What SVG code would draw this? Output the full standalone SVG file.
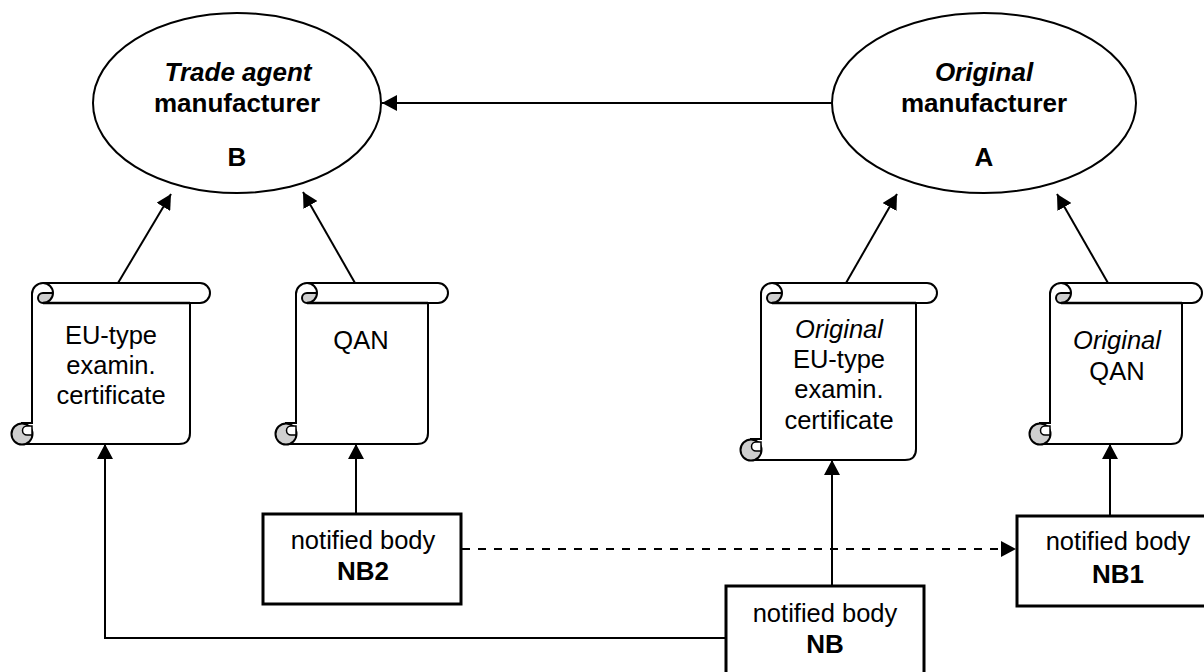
<svg xmlns="http://www.w3.org/2000/svg" width="1204" height="672" viewBox="0 0 1204 672">
<style>
text{font-family:"Liberation Sans",Arial,sans-serif;font-size:25.500px;fill:#000;text-anchor:middle}
.b{font-weight:bold;font-size:26px}.i{font-style:italic}
.s{fill:#fff;stroke:#000;stroke-width:2}
.r{fill:#fff;stroke:#000;stroke-width:3}
.c{fill:none;stroke:#000;stroke-width:2}
.g{fill:#cfcfcf;stroke:#000;stroke-width:2}
.f{fill:#cfcfcf}
.w{fill:#fff;stroke:#000;stroke-width:1.500}
.t{fill:none;stroke:#000;stroke-width:2.500}
</style>
<defs>
<marker id="a" markerUnits="userSpaceOnUse" markerWidth="17" markerHeight="16" refX="15" refY="8" orient="auto"><path d="M0 0L15 8L0 16z" fill="#000"/></marker>
<g id="curl">
<path class="f" d="M11 21A5 5 0 0 1 11 11H21A10 10 0 0 1 11 21Z"/>
<path class="c" d="M11 1A10 10 0 0 1 11 21A5 5 0 0 1 11 11H21"/>
</g>
<g id="foot">
<circle class="g" cx="0" cy="0" r="10.500"/>
<path class="w" d="M10 -8H5A4.500 4.500 0 0 0 5 1H10Z"/>
</g>
</defs>
<g id="connectors">
<path class="c" marker-end="url(#a)" d="M832 103H382"/>
<path class="c" marker-end="url(#a)" d="M118 283L171 194"/>
<path class="c" marker-end="url(#a)" d="M355 283L303 192"/>
<path class="c" marker-end="url(#a)" d="M846 283L897 194"/>
<path class="c" marker-end="url(#a)" d="M1108 283L1057 194"/>
<path class="c" marker-end="url(#a)" d="M356 514V444"/>
<path class="c" marker-end="url(#a)" d="M832 586V460"/>
<path class="c" marker-end="url(#a)" d="M1110 516V444"/>
<path class="c" marker-end="url(#a)" d="M726 638H105V444"/>
<path class="c" marker-end="url(#a)" stroke-dasharray="8 8" d="M462 549H1016"/>
</g>
<g id="trade-agent"><ellipse class="s" cx="237" cy="103" rx="144" ry="90"/><text class="b i" x="238" y="81">Trade agent</text><text class="b" x="237" y="112">manufacturer</text><text class="b" x="237" y="166">B</text></g>
<g id="original"><ellipse class="s" cx="984" cy="103" rx="152" ry="90"/><text class="b i" x="984" y="81">Original</text><text class="b" x="984" y="112">manufacturer</text><text class="b" x="984" y="166">A</text></g>
<g id="cert-b">
<path class="s" d="M43 283H200A10 10 0 0 1 200 303H190V433Q190 444 179 444H22V423H32V294A11 11 0 0 1 43 283Z"/>
<use href="#curl" x="32" y="282"/><path class="t" d="M43 303H190"/><use href="#foot" x="22" y="434"/>
<text x="111" y="344">EU-type</text><text x="111" y="374">examin.</text><text x="111" y="404">certificate</text></g>
<g id="qan-b">
<path class="s" d="M307 283H438A10 10 0 0 1 438 303H428V433Q428 444 417 444H286V423H296V294A11 11 0 0 1 307 283Z"/>
<use href="#curl" x="296" y="282"/><path class="t" d="M307 303H428"/><use href="#foot" x="286" y="434"/>
<text x="361" y="349">QAN</text></g>
<g id="cert-a">
<path class="s" d="M772 283H927A10 10 0 0 1 927 303H916V449Q916 460 905 460H751V439H761V294A11 11 0 0 1 772 283Z"/>
<use href="#curl" x="761" y="282"/><path class="t" d="M772 303H916"/><use href="#foot" x="751" y="450"/>
<text class="i" x="839" y="338">Original</text><text x="839" y="368">EU-type</text><text x="839" y="398">examin.</text><text x="839" y="429">certificate</text></g>
<g id="qan-a">
<path class="s" d="M1061 283H1192A10 10 0 0 1 1192 303H1182V433Q1182 444 1171 444H1040V423H1050V294A11 11 0 0 1 1061 283Z"/>
<use href="#curl" x="1050" y="282"/><path class="t" d="M1061 303H1182"/><use href="#foot" x="1040" y="434"/>
<text class="i" x="1117" y="349">Original</text><text x="1117" y="380">QAN</text></g>
<g id="nb2"><rect class="r" x="263" y="514" width="198" height="90"/><text x="363" y="549">notified body</text><text class="b" x="363" y="580">NB2</text></g>
<g id="nb1"><rect class="r" x="1017" y="516" width="198" height="90"/><text x="1118" y="550">notified body</text><text class="b" x="1118" y="583">NB1</text></g>
<g id="nb"><rect class="r" x="726" y="586" width="198" height="90"/><text x="825" y="622">notified body</text><text class="b" x="825" y="653">NB</text></g>
</svg>
